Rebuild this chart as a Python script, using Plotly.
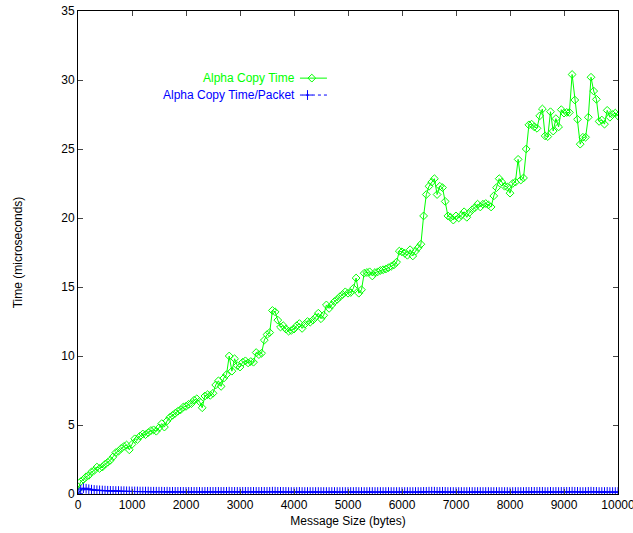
import plotly.graph_objects as go

# Message sizes in bytes (0 .. 10000, every 50 bytes)
msg_size = list(range(0, 10001, 50))

# Total copy time (microseconds)
copy_time = [
    0.3, 0.9, 1.05, 1.25, 1.35, 1.6, 1.7, 1.95, 1.85, 1.95,
    2.15, 2.3, 2.45, 2.7, 3.0, 3.1, 3.3, 3.45, 3.55, 3.2,
    3.6, 4.0, 3.95, 4.2, 4.35, 4.3, 4.45, 4.6, 4.65, 4.55,
    4.8, 5.1, 4.85, 5.3, 5.55, 5.7, 5.85, 6.0, 6.1, 6.3,
    6.35, 6.5, 6.55, 6.8, 6.9, 6.7, 6.25, 7.1, 7.2, 7.15,
    7.3, 7.9, 8.2, 7.8, 8.4, 8.65, 10.0, 8.9, 9.8, 9.3,
    9.2, 9.55, 9.65, 9.5, 9.6, 9.55, 10.25, 10.1, 10.2, 11.15,
    11.55, 11.7, 13.3, 13.2, 12.6, 12.1, 12.2, 11.95, 11.8, 11.85,
    11.95, 12.2, 12.35, 12.0, 12.3, 12.5, 12.45, 12.6, 12.8, 13.1,
    12.7, 12.95, 13.7, 13.45, 13.7, 13.95, 14.1, 14.3, 14.45, 14.65,
    14.55, 14.6, 14.9, 15.65, 14.55, 14.8, 16.0, 16.05, 16.1, 15.8,
    16.05, 16.1, 16.2, 16.25, 16.3, 16.4, 16.5, 16.6, 16.8, 17.6,
    17.55, 17.45, 17.3, 17.7, 17.25, 17.6, 17.85, 18.1, 20.15, 21.7,
    22.3, 22.6, 22.85, 21.7, 22.3, 22.2, 21.2, 20.15, 20.05, 19.85,
    20.15, 20.0, 20.2, 20.45, 20.05, 20.4, 20.6, 20.75, 21.0, 20.8,
    21.0, 21.05, 20.95, 20.8, 21.6, 22.2, 22.85, 22.6, 22.3, 22.25,
    21.8, 22.5, 22.6, 24.25, 22.75, 22.9, 25.0, 26.75, 26.8, 26.6,
    26.5, 27.4, 27.9, 25.95, 25.9, 27.7, 26.3, 27.2, 26.6, 27.85,
    27.6, 27.65, 27.65, 30.4, 28.55, 27.15, 25.35, 25.85, 25.85, 27.3,
    30.2, 29.2, 28.6, 27.0, 27.1, 26.8, 27.8, 27.3, 27.5, 27.6,
    27.4,
]

# Copy time per packet (microseconds)
copy_time_per_packet = [
    0.02, 0.30, 0.42, 0.38, 0.34, 0.31, 0.29, 0.27, 0.26, 0.25,
    0.24, 0.23, 0.22, 0.22, 0.21, 0.21, 0.20, 0.20, 0.19, 0.19,
    0.18, 0.18, 0.18, 0.17, 0.17, 0.17, 0.17, 0.16, 0.16, 0.16,
    0.16, 0.16, 0.15, 0.16, 0.15, 0.15, 0.15, 0.15, 0.15, 0.15,
    0.15, 0.15, 0.15, 0.15, 0.15, 0.15, 0.14, 0.15, 0.15, 0.15,
    0.15, 0.15, 0.15, 0.15, 0.15, 0.15, 0.16, 0.15, 0.15, 0.15,
    0.15, 0.15, 0.15, 0.15, 0.15, 0.15, 0.15, 0.15, 0.15, 0.15,
    0.15, 0.15, 0.16, 0.16, 0.15, 0.15, 0.15, 0.15, 0.14, 0.14,
    0.14, 0.14, 0.15, 0.14, 0.14, 0.14, 0.14, 0.14, 0.14, 0.14,
    0.14, 0.14, 0.14, 0.14, 0.14, 0.14, 0.14, 0.14, 0.14, 0.14,
    0.14, 0.14, 0.14, 0.15, 0.14, 0.14, 0.14, 0.14, 0.14, 0.14,
    0.14, 0.14, 0.14, 0.14, 0.14, 0.14, 0.14, 0.14, 0.14, 0.14,
    0.14, 0.14, 0.14, 0.14, 0.14, 0.14, 0.14, 0.14, 0.15, 0.15,
    0.16, 0.16, 0.16, 0.15, 0.15, 0.15, 0.15, 0.14, 0.14, 0.14,
    0.14, 0.14, 0.14, 0.14, 0.14, 0.14, 0.14, 0.14, 0.14, 0.14,
    0.14, 0.14, 0.14, 0.14, 0.14, 0.14, 0.14, 0.14, 0.14, 0.14,
    0.13, 0.14, 0.14, 0.14, 0.14, 0.14, 0.15, 0.15, 0.15, 0.15,
    0.15, 0.15, 0.15, 0.14, 0.14, 0.15, 0.14, 0.15, 0.14, 0.15,
    0.15, 0.15, 0.15, 0.16, 0.15, 0.15, 0.14, 0.14, 0.14, 0.15,
    0.16, 0.15, 0.15, 0.14, 0.14, 0.14, 0.15, 0.14, 0.14, 0.14,
    0.14,
]

series_names = ["Alpha Copy Time", "Alpha Copy Time/Packet"]
green = "#00ff00"
blue = "#0000ff"
font_family = "Liberation Sans, Arial, Helvetica, sans-serif"

x_ticks = list(range(0, 10001, 1000))
x_tick_labels = [str(v) for v in x_ticks]
y_ticks = list(range(0, 36, 5))
y_tick_labels = [str(v) for v in y_ticks]

fig = go.Figure()

fig.add_trace(go.Scatter(
    x=msg_size, y=copy_time, mode="lines+markers", name=series_names[0],
    line=dict(color=green, width=1),
    marker=dict(symbol="diamond-open", size=6, color=green, line=dict(width=1, color=green)),
    showlegend=False,
))
fig.add_trace(go.Scatter(
    x=msg_size, y=copy_time_per_packet, mode="lines+markers", name=series_names[1],
    line=dict(color=blue, width=1, dash="dash"),
    marker=dict(symbol="cross-thin-open", size=7, color=blue, line=dict(width=1, color=blue)),
    showlegend=False,
))

# Legend keys drawn on a hidden unit overlay axis, keys to the right of the labels
key_x0, key_x1, key_mid = 0.411, 0.461, 0.433
key_rows = [0.861, 0.826]
fig.add_trace(go.Scatter(
    x=[key_x0, key_x1], y=[key_rows[0]] * 2, xaxis="x2", yaxis="y2",
    mode="lines", line=dict(color=green, width=1), showlegend=False, hoverinfo="skip",
))
fig.add_trace(go.Scatter(
    x=[key_mid], y=[key_rows[0]], xaxis="x2", yaxis="y2", mode="markers",
    marker=dict(symbol="diamond-open", size=6, color=green, line=dict(width=1, color=green)),
    showlegend=False, hoverinfo="skip",
))
fig.add_trace(go.Scatter(
    x=[key_x0, key_x1], y=[key_rows[1]] * 2, xaxis="x2", yaxis="y2",
    mode="lines", line=dict(color=blue, width=1, dash="3px,3px"), showlegend=False, hoverinfo="skip",
))
fig.add_trace(go.Scatter(
    x=[key_mid - 0.008], y=[key_rows[1]], xaxis="x2", yaxis="y2", mode="markers",
    marker=dict(symbol="cross-thin-open", size=7, color=blue, line=dict(width=1, color=blue)),
    showlegend=False, hoverinfo="skip",
))

for name, color, row in zip(series_names, [green, blue], key_rows):
    fig.add_annotation(
        x=0.4056, y=row, xref="paper", yref="paper", text=name, showarrow=False,
        xanchor="right", yanchor="middle", font=dict(color=color, size=12, family=font_family),
    )

axis_common = dict(
    showgrid=False, zeroline=False, showline=True, linecolor="black", linewidth=1,
    mirror="allticks", ticks="inside", ticklen=5, tickcolor="#444444", automargin=False,
    ticklabeloverflow="allow",
    tickfont=dict(size=12, family=font_family, color="black"),
)

fig.update_layout(
    width=633, height=533,
    margin=dict(l=78, r=15, t=11, b=39),
    paper_bgcolor="white", plot_bgcolor="white",
    font=dict(family=font_family, size=12, color="black"),
    xaxis=dict(range=[0, 10000], tickmode="array", tickvals=x_ticks, ticktext=x_tick_labels,
               title=dict(text="Message Size (bytes)", standoff=5, font=dict(size=12)),
               **axis_common),
    yaxis=dict(range=[0, 35], tickmode="array", tickvals=y_ticks, ticktext=y_tick_labels,
               title=dict(text="Time (microseconds)", standoff=36, font=dict(size=12)),
               **axis_common),
    xaxis2=dict(range=[0, 1], overlaying="x", anchor="y2", visible=False),
    yaxis2=dict(range=[0, 1], overlaying="y", anchor="x2", visible=False),
)

fig.write_html("out.html")
